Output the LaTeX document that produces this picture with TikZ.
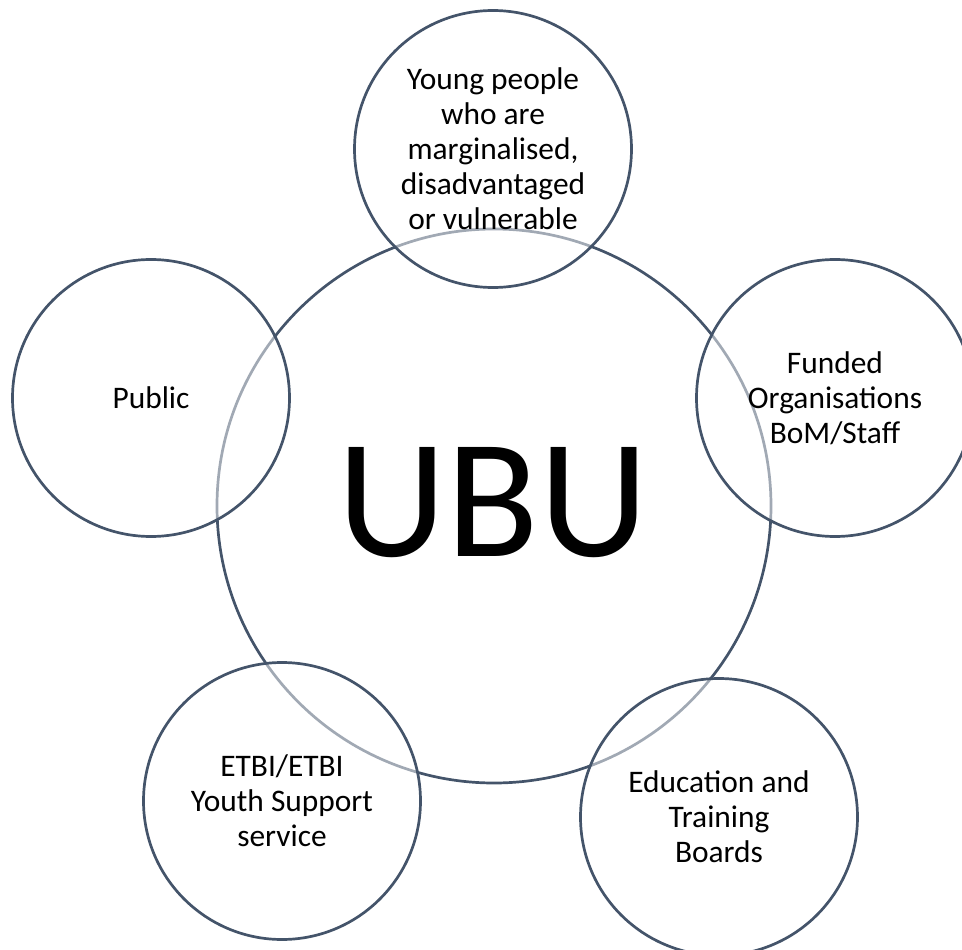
\documentclass[tikz,border=0pt]{standalone}
\usepackage{fontspec}
\setmainfont{Carlito}
\definecolor{ringcol}{HTML}{44546A}
\begin{document}
\begin{tikzpicture}[x=1pt,y=-1pt,
  ring/.style={circle, draw=ringcol, line width=2.7pt, inner sep=0pt, minimum size=277pt},
  outer/.style={ring, fill=white, fill opacity=0.5, text opacity=1, align=center,
    font=\fontsize{31.4}{35}\selectfont},
]
\useasboundingbox (0,0) rectangle (962,950);
\clip (0,0) rectangle (962,950);
\node[ring, minimum size=554pt] (ubu) at (494,506) {};
\node[font=\fontsize{170}{200}\selectfont] (ubutext) at (493,503) {UBU};
\node[outer] (young) at (493,149) {Young people\\who are\\marginalised,\\disadvantaged\\or vulnerable};
\node[outer] (funded) at (835,398) {Funded\\Organisations\\BoM/Staff};
\node[outer] (public) at (151,398) {Public};
\node[outer] (etbi) at (282,801) {ETBI/ETBI\\Youth Support\\service};
\node[outer] (etb) at (719,817) {Education and\\Training\\Boards};
\end{tikzpicture}
\end{document}
